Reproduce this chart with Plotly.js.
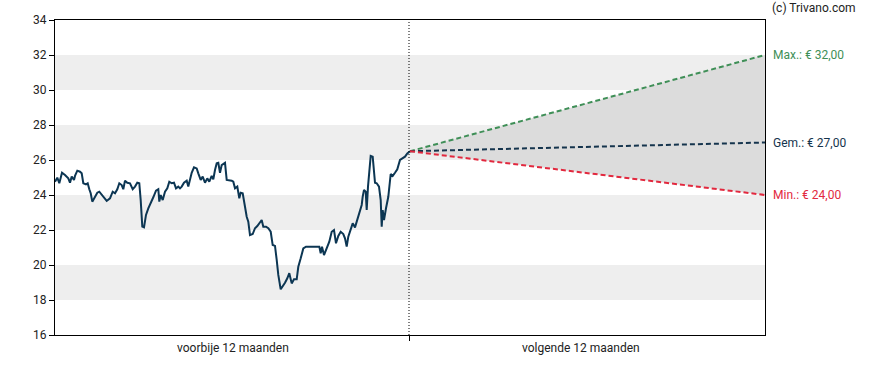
<!DOCTYPE html>
<html>
<head>
<meta charset="utf-8">
<script src="https://cdn.plot.ly/plotly-3.0.1.min.js"></script>
<style>html,body{margin:0;padding:0;background:#fff;}#chart{width:888px;height:370px;}</style>
</head>
<body>
<div id="chart"></div>
<script>
// Historical prices: day index (0..355 = past 12 months) and price
const histDays = [0,2.3,4.3,7,10,13.3,15,16.7,19,20,22.3,25,26.7,28.3,31,32.7,34.3,35.7,37.3,40,42.3,44.3,46.7,49,51.7,55,57.7,60,62.3,64.3,66.7,68.3,70,72.3,75,77.7,80,82.3,84.3,85.7,87.3,89,91,93.3,95.7,98.3,101,103.3,104.3,105.7,107.7,110,112.3,114.3,116.7,119,121,123.3,125,126.7,129,131.7,133.3,135,136.7,139,141.7,143.3,145.7,147.7,150,152.3,154.3,156.7,158.3,160,161.7,163.3,165,166.7,168.3,170,171.7,174.3,176.7,178.3,180,182.3,184.3,185.7,187.7,190,191.7,193.3,195,197.7,200,202.3,204.3,206.7,208.3,211,213.3,215.7,217.7,220,221.7,223.3,225.7,227.7,230,232.3,234.3,236.7,239,241.7,243.3,245.7,248.3,251,255,258.3,261.7,264.3,265.7,267,269,271.7,274.3,276.7,279,281,283.3,285.7,288.3,290,291.7,293.3,295.7,297.7,300,302.3,305,306.7,307.7,309,310.7,311.7,313,314.3,315.7,317.7,319,320,321.7,324,325.7,326.7,327.7,329,331,333.3,335.7,337.7,340,342.3,345,347.7,350,352.3,354.3,355];
const histPrice = [24.76,24.99,24.67,25.27,25.14,24.95,24.70,25.05,24.86,25.09,25.39,25.33,25.24,24.67,24.61,24.67,24.33,24.10,23.62,23.87,24.13,24.19,24.00,23.81,23.66,23.81,24.19,24.10,24.33,24.67,24.57,24.33,24.82,24.70,24.67,24.33,24.48,24.70,24.67,23.71,22.19,22.15,22.86,23.24,23.52,23.87,24.25,24.33,23.62,24.00,23.71,24.19,24.38,24.76,24.67,24.70,24.38,24.48,24.38,24.48,24.70,24.82,24.48,24.95,25.27,25.58,25.52,25.24,24.86,25.05,24.70,24.95,24.76,25.09,24.90,25.43,25.81,25.84,25.27,25.71,25.77,25.84,24.86,24.86,24.82,24.76,24.38,24.48,23.81,24.13,24.10,23.33,22.76,22.48,21.71,21.77,22.10,22.23,22.38,22.57,22.19,22.19,22.10,21.90,21.14,21.09,20.29,19.43,18.61,18.76,18.99,19.24,19.53,18.95,19.18,19.18,19.90,20.38,20.95,21.05,21.05,21.05,21.09,21.05,20.67,21.05,20.57,20.95,21.33,21.90,22.00,21.24,21.66,21.90,21.77,21.52,21.05,21.62,22.10,22.38,22.15,22.57,23.14,23.43,23.90,24.29,24.19,23.14,24.48,25.62,26.23,26.19,25.43,24.70,24.67,24.48,23.71,22.19,23.14,22.57,23.24,23.90,25.20,25.09,25.27,25.47,26.00,26.10,26.19,26.38,26.47,26.50];

// Forecast (next 12 months)
const fcDays = [355, 710];
const fcMax = [26.5, 32.00];
const fcAvg = [26.5, 27.00];
const fcMin = [26.5, 24.00];

const yTicks = [16,18,20,22,24,26,28,30,32,34];
const bandRanges = [[18,20],[22,24],[26,28],[30,32]];
const periodLabels = ['voorbije 12 maanden','volgende 12 maanden'];
const labelMax = 'Max.: € 32,00';
const labelAvg = 'Gem.: € 27,00';
const labelMin = 'Min.: € 24,00';
const copyright = '(c) Trivano.com';

const navy = '#0c3653';
const green = '#3f8f57';
const red = '#e2283e';

const traces = [
  { x: [fcDays[0], fcDays[1], fcDays[1], fcDays[0]],
    y: [fcMax[0], fcMax[1], fcMin[1], fcMin[0]],
    mode: 'lines', fill: 'toself', fillcolor: '#dcdcdc',
    line: {width: 0, color: 'rgba(0,0,0,0)'}, hoverinfo: 'skip' },
  { x: histDays, y: histPrice, mode: 'lines', line: {color: navy, width: 2} },
  { x: fcDays, y: fcMax, mode: 'lines', line: {color: green, width: 2, dash: '5px,3px'} },
  { x: fcDays, y: fcAvg, mode: 'lines', line: {color: '#15344d', width: 2, dash: '5px,3px'} },
  { x: fcDays, y: fcMin, mode: 'lines', line: {color: red, width: 2, dash: '5px,3px'} }
];

const shapes = bandRanges.map(r => ({
  type: 'rect', xref: 'paper', yref: 'y', x0: 0, x1: 1, y0: r[0], y1: r[1],
  fillcolor: '#eeeeee', line: {width: 0}, layer: 'below'
}));
shapes.push({type: 'line', xref: 'x', yref: 'paper', x0: 354, x1: 354, y0: 0, y1: 1,
  line: {color: '#000', width: 1, dash: '1px,2px'}});

const font = {family: 'Roboto, "Open Sans", sans-serif', size: 12, color: '#222'};

const annotations = [
  {x: 177.5, y: 0, xref: 'x', yref: 'paper', yanchor: 'top', yshift: -4, text: periodLabels[0], showarrow: false, font: font},
  {x: 526, y: 0, xref: 'x', yref: 'paper', yanchor: 'top', yshift: -4, text: periodLabels[1], showarrow: false, font: font},
  {x: 710, y: fcMax[1], xref: 'x', yref: 'y', xanchor: 'left', xshift: 6, text: labelMax, showarrow: false, font: {family: font.family, size: 12, color: green}},
  {x: 710, y: fcAvg[1], xref: 'x', yref: 'y', xanchor: 'left', xshift: 6, text: labelAvg, showarrow: false, font: {family: font.family, size: 12, color: '#15344d'}},
  {x: 710, y: fcMin[1], xref: 'x', yref: 'y', xanchor: 'left', xshift: 6, text: labelMin, showarrow: false, font: {family: font.family, size: 12, color: red}},
  {x: 1, y: 1, xref: 'paper', yref: 'paper', xanchor: 'left', yanchor: 'bottom', xshift: 5, yshift: 3, text: copyright, showarrow: false, font: font}
];

const layout = {
  width: 888, height: 370,
  margin: {l: 55, r: 123, t: 20, b: 35, pad: 0},
  paper_bgcolor: '#fff', plot_bgcolor: '#fff',
  showlegend: false,
  font: font,
  xaxis: {range: [0, 710], tickvals: [354], ticktext: [''], ticks: 'outside', ticklen: 5,
    tickcolor: '#000', showgrid: false, zeroline: false, showline: true, linecolor: '#000',
    linewidth: 1, mirror: true, fixedrange: true},
  yaxis: {range: [16, 34], tickvals: yTicks, ticks: 'outside', ticklen: 5, tickcolor: '#000',
    showgrid: false, zeroline: false, showline: true, linecolor: '#000', linewidth: 1,
    mirror: true, tickfont: font, fixedrange: true},
  shapes: shapes,
  annotations: annotations
};

Plotly.newPlot('chart', traces, layout, {displayModeBar: false, staticPlot: true});
</script>
</body>
</html>
